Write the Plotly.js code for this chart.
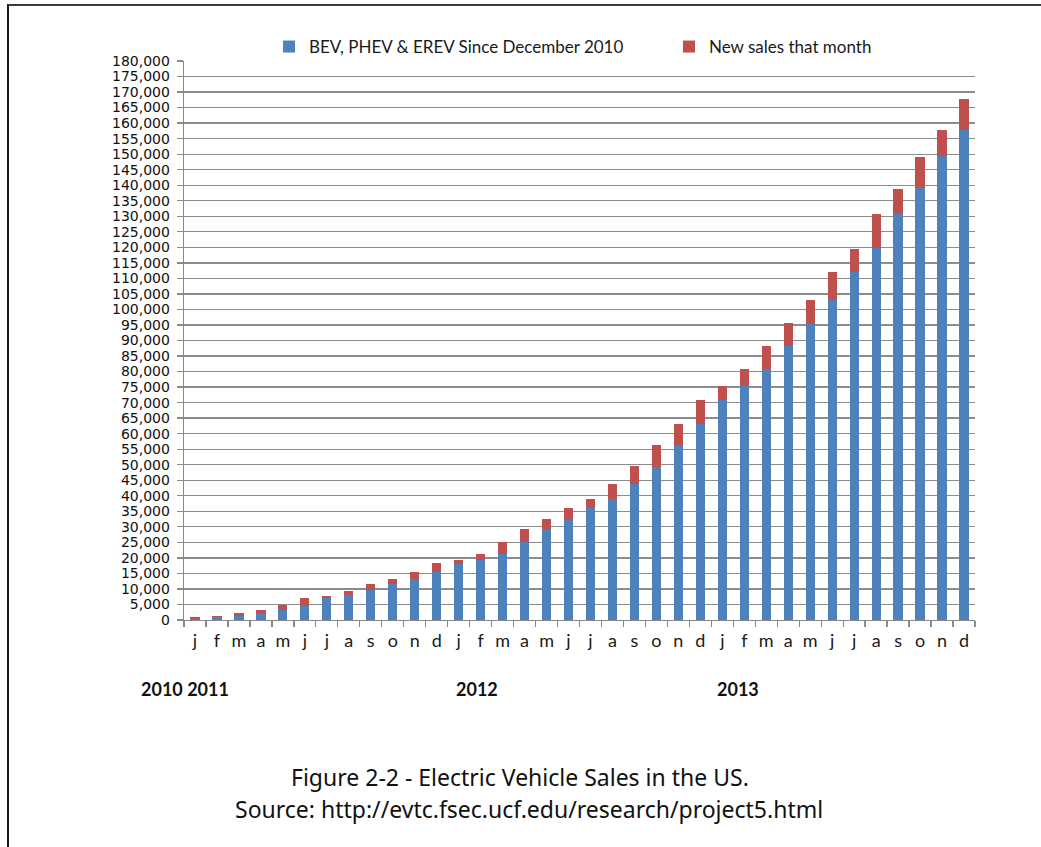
<!DOCTYPE html>
<html>
<head>
<meta charset="utf-8">
<script src="https://cdn.plot.ly/plotly-3.0.1.min.js"></script>
<style>
  html, body { margin: 0; padding: 0; background: #fff; }
  #wrap { position: relative; width: 1041px; height: 847px; overflow: hidden; }
  #chart { width: 1041px; height: 847px; }
  #frame { position: absolute; left: 7px; top: 4px; width: 1100px; height: 900px;
           border-top: 2px solid #3c3c3c; border-left: 2px solid #1a1a1a; pointer-events: none; }
</style>
</head>
<body>
<div id="wrap">
  <div id="chart"></div>
  <div id="frame"></div>
</div>
<script>
// Month keys (unique categories) and their single-letter labels
const months = [
  "2011-01","2011-02","2011-03","2011-04","2011-05","2011-06","2011-07","2011-08","2011-09","2011-10","2011-11","2011-12",
  "2012-01","2012-02","2012-03","2012-04","2012-05","2012-06","2012-07","2012-08","2012-09","2012-10","2012-11","2012-12",
  "2013-01","2013-02","2013-03","2013-04","2013-05","2013-06","2013-07","2013-08","2013-09","2013-10","2013-11","2013-12"
];
const monthLetters = [
  "j","f","m","a","m","j","j","a","s","o","n","d",
  "j","f","m","a","m","j","j","a","s","o","n","d",
  "j","f","m","a","m","j","j","a","s","o","n","d"
];
// Cumulative sales since December 2010 (blue)
const cumulative = [
  350, 850, 1400, 2200, 3100, 4600, 7150, 7900, 9600, 11600, 13200, 15300,
  17900, 19400, 21300, 25200, 29300, 32600, 36000, 39000, 43800, 49300, 56400, 63200,
  70700, 75500, 80900, 88300, 95400, 103100, 112200, 119700, 130800, 139000, 149300, 157800
];
// New sales that month (red)
const newSales = [
  500, 550, 800, 900, 1700, 2500, 700, 1600, 2100, 1700, 2100, 2900,
  1500, 1700, 3850, 4100, 3350, 3400, 2900, 4800, 5700, 7200, 6750, 7800,
  4800, 5300, 7300, 7300, 7600, 8900, 7400, 10900, 8100, 10200, 8500, 9900
];
const seriesNames = ["BEV, PHEV & EREV Since December 2010", "New sales that month"];
const yearLabels = ["2010 2011", "2012", "2013"];
const captionLines = ["Figure 2-2 - Electric Vehicle Sales in the US.",
                      "Source: http://evtc.fsec.ucf.edu/research/project5.html"];

const blue = "#4f81bd", red = "#c0504d";
const legendFont = {family: "Lato, 'Open Sans', sans-serif", size: 17, color: "#1a1a1a"};

const traces = [
  {type: "bar", x: months, y: cumulative, name: seriesNames[0], marker: {color: blue},
   hoverinfo: "y", legend: "legend"},
  {type: "bar", x: months, y: newSales, name: seriesNames[1], marker: {color: red},
   hoverinfo: "y", legend: "legend2"}
];

// plot area: x 184..975, y 61..620 (pixels)
const plotTop = 61, plotBottom = 620;
const ph = plotBottom - plotTop;
const py = (pix) => (plotBottom - pix) / ph;
const pxl = (pix) => (pix - 184) / (975 - 184);

const yearFont = {family: "Lato, sans-serif", size: 18, color: "#111"};
const capFont = {family: "'Noto Sans', 'Open Sans', sans-serif", size: 23, color: "#111"};

const layout = {
  width: 1041, height: 847,
  margin: {l: 184, r: 66, t: 61, b: 227, pad: 0},
  paper_bgcolor: "#ffffff", plot_bgcolor: "#ffffff",
  barmode: "stack", bargap: 0.58,
  showlegend: true,
  legend: {orientation: "h", x: pxl(269), xanchor: "left", y: py(47), yanchor: "middle",
           font: legendFont, itemwidth: 30, bgcolor: "rgba(0,0,0,0)"},
  legend2: {orientation: "h", x: pxl(669), xanchor: "left", y: py(47), yanchor: "middle",
           font: legendFont, itemwidth: 30, bgcolor: "rgba(0,0,0,0)"},
  xaxis: {
    type: "category", categoryorder: "array", categoryarray: months,
    tickvals: months, ticktext: monthLetters, tickangle: 0,
    tickson: "boundaries", ticks: "outside", ticklen: 6, tickcolor: "#8a8a8a", tickwidth: 1.3,
    showline: true, linecolor: "#8a8a8a", linewidth: 1.3,
    showgrid: false, zeroline: false,
    tickfont: {family: "Lato, 'Open Sans', sans-serif", size: 18, color: "#1a1a1a"},
    ticklabelstandoff: 4, fixedrange: true
  },
  yaxis: {
    range: [0, 180000], dtick: 5000, tick0: 0, tickformat: ",d",
    showgrid: true, gridcolor: "#8c8c8c", gridwidth: 1.3,
    showline: true, linecolor: "#8a8a8a", linewidth: 1.3,
    ticks: "outside", ticklen: 6, tickcolor: "#8a8a8a", tickwidth: 1.3,
    zeroline: false,
    tickfont: {family: "'DejaVu Sans', Verdana, sans-serif", size: 14, color: "#111"},
    ticklabelstandoff: 4, fixedrange: true
  },
  annotations: [
    {xref: "paper", yref: "paper", x: pxl(185), y: py(689), text: "<b>" + yearLabels[0] + "</b>",
     showarrow: false, xanchor: "center", yanchor: "middle", font: yearFont},
    {xref: "paper", yref: "paper", x: pxl(477), y: py(689), text: "<b>" + yearLabels[1] + "</b>",
     showarrow: false, xanchor: "center", yanchor: "middle", font: yearFont},
    {xref: "paper", yref: "paper", x: pxl(738), y: py(689), text: "<b>" + yearLabels[2] + "</b>",
     showarrow: false, xanchor: "center", yanchor: "middle", font: yearFont},
    {xref: "paper", yref: "paper", x: pxl(520), y: py(777), text: captionLines[0],
     showarrow: false, xanchor: "center", yanchor: "middle", font: capFont},
    {xref: "paper", yref: "paper", x: pxl(529), y: py(809), text: captionLines[1],
     showarrow: false, xanchor: "center", yanchor: "middle", font: capFont}
  ]
};

Plotly.newPlot("chart", traces, layout, {displayModeBar: false, staticPlot: true});
</script>
</body>
</html>
